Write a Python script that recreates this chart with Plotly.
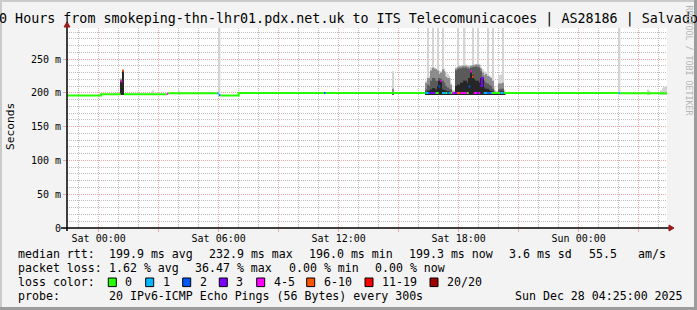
import pandas as pd
import plotly.graph_objects as go

# ---------------- data (hours relative to Sat 2025-12-27 00:00) ----------------
BASE = pd.Timestamp("2025-12-27 00:00")
X_START_H = -(1 + 35 / 60)      # Fri 22:25
X_END_H = 28 + 25 / 60          # Sun 04:25
BIN_H = 5 / 60                  # 300 s step

LOSS_COLORS = ["#26ff00", "#00b8ff", "#0059ff", "#7e00ff", "#ff00ff", "#ff5500", "#ff0000", "#a10000"]
LOSS_LABELS = ["0", "1", "2", "3", "4-5", "6-10", "11-19", "20/20"]

# median rtt runs outside the busy period: start h, end h, value ms, loss class
base_t0 = [-1.5833, 0.1167, 1.1, 1.1833, 1.2667, 3.4, 3.4833, 5.9167, 6.0, 6.0833, 7.0, 11.2667, 11.35, 20.3333, 26.0, 26.0833]
base_t1 = [0.1167, 1.1, 1.1833, 1.2667, 3.4, 3.4833, 5.9167, 6.0, 6.0833, 7.0, 11.2667, 11.35, 16.3333, 26.0, 26.0833, 28.4167]
base_val = [196.0, 198.0, 217.0, 232.9, 198.0, 198.5, 199.5, 199.5, 196.5, 196.0, 199.8, 199.8, 199.8, 199.8, 199.8, 199.3]
base_loss = [0, 0, 4, 5, 0, 4, 0, 1, 2, 0, 0, 2, 0, 0, 1, 0]

# busy period Sat 16:20 - 20:20, one value per 5-minute step
BUSY_START = 16.3333
busy_loss = [1, 1, 2, 3, 3, 3, 0, 0, 2, 4, 1, 1, 0, 2, 1, 0,
             4, 3, 3, 5, 5, 4, 4, 4, 4, 0, 2, 4, 5, 4, 4, 3,
             4, 3, 3, 1, 1, 2, 2, 1, 0, 0, 0, 0, 0, 1, 1, 0]
busy_med = [199.8, 199.8, 199.8, 199.8, 199.8, 199.8, 199.8, 199.8, 209.5, 218.0, 199.8, 199.8, 199.8, 199.8, 199.8, 199.8,
            199.8, 199.8, 199.8, 199.8, 199.8, 199.8, 199.8, 199.8, 199.8, 199.8, 209.5, 231.7, 224.0, 199.8, 199.8, 199.8,
            199.8, 210.0, 222.0, 199.8, 199.8, 199.8, 199.8, 199.8, 199.8, 199.8, 199.8, 199.8, 199.8, 199.8, 199.8, 199.8]
# smoke (ping spread) tops per step, ms: outer / mid / inner / core
busy_light = [218, 320, 225, 238, 320, 238, 236, 320, 233, 232, 320, 236, 230, 228, 225, 214,
              205, 204, 238, 320, 240, 240, 241, 320, 242, 241, 240, 241, 320, 243, 242, 320,
              243, 238, 235, 232, 230, 320, 226, 224, 320, 210, 203, 203, 226, 227, 320, 205]
busy_mid = [215, 222, 222, 233, 237, 236, 235, 233, 228, 230, 235, 232, 224, 222, 222, 212,
            202, 201, 236, 238, 239, 239, 240, 240, 240, 239, 238, 240, 241, 241, 242, 242,
            241, 236, 230, 226, 228, 225, 224, 222, 218, 204, 200, 200, 214, 214, 215, 202]
busy_dark = [205, 212, 210, 218, 222, 222, 218, 218, 222, 221, 218, 215, 210, 208, 206, 205,
             200, 199, 233, 235, 236, 236, 237, 237, 237, 236, 235, 237, 238, 238, 239, 238,
             237, 232, 224, 218, 215, 214, 212, 210, 206, 201, 199, 199, 205, 206, 206, 200]
busy_core = [201, 203, 203, 205, 207, 207, 205, 210, 218, 219, 205, 204, 203, 202, 202, 201,
             199, 199, 210, 212, 212, 215, 215, 218, 218, 215, 222, 232, 226, 220, 218, 218,
             215, 222, 222, 208, 206, 206, 204, 203, 202, 200, 199, 199, 201, 202, 202, 199]

# isolated smoke steps elsewhere
extra_t = [1.1, 1.1833, 2.6667, 4.0, 6.0, 14.6667, 26.0, 27.4167, 27.5, 28.0833, 28.1667, 28.25, 28.3333]
extra_light = [222, 235, 204, 202.5, 320, 232, 320, 205, 203, 204, 207, 209, 210]
extra_mid = [220, 234, 197, 197, 197, 206, 197, 197, 197, 197, 197, 197, 197]
extra_dark = [218, 233, 197, 197, 197, 200, 197, 197, 197, 197, 197, 197, 197]
extra_core = [217, 232, 197, 197, 197, 197, 197, 197, 197, 197, 197, 197, 197]
SMOKE_LOW = 197.0

# y axis ticks
y_ticks = [0, 50, 100, 150, 200, 250]
y_ticktext = ["0", "50 m", "100 m", "150 m", "200 m", "250 m"]
x_major_h = [0, 3, 6, 9, 12, 15, 18, 21, 24, 27]
x_major_text = ["Sat 00:00", "", "Sat 06:00", "", "Sat 12:00", "", "Sat 18:00", "", "Sun 00:00", ""]

# legend statistics
rtt_vals = [199.9, 232.9, 196.0, 199.3]
rtt_names = ["avg", "max", "min", "now"]
rtt_sd = 3.6
rtt_ams = 55.5
loss_vals = [1.62, 36.47, 0.00, 0.00]
probe_text = "20 IPv6-ICMP Echo Pings (56 Bytes) every 300s"
stamp_text = "Sun Dec 28 04:25:00 2025"
title_text = "30 Hours from smokeping-thn-lhr01.pdx.net.uk to ITS Telecomunicacoes | AS28186 | Salvador"

# ---------------- layout geometry ----------------
W, H = 697, 310
PL, PT, PW, PH = 67, 28, 600, 200
FONT = "DejaVu Sans Mono"


def px(x):
    return (x - PL) / PW


def py(y):
    return (PT + PH - y) / PH


def T(h):
    return BASE + pd.to_timedelta(h, unit="h")


fig = go.Figure()

# ---------------- smoke ----------------
busy_t = [BUSY_START + i * BIN_H for i in range(len(busy_light))]
smoke_t = busy_t + extra_t
layers = [
    (busy_light + extra_light, "#d4d4d4"),
    (busy_mid + extra_mid, "#8c8c8c"),
    (busy_dark + extra_dark, "#5a5a5a"),
    (busy_core + extra_core, "#262626"),
]
for tops, col in layers:
    fig.add_trace(go.Bar(
        x=[T(t + BIN_H / 2) for t in smoke_t],
        y=[max(v - SMOKE_LOW, 0) for v in tops],
        base=[SMOKE_LOW] * len(tops),
        width=[BIN_H * 3600 * 1000] * len(tops),
        marker=dict(color=col, line=dict(width=0)),
        showlegend=False, hoverinfo="skip",
    ))

# ---------------- median line coloured by loss ----------------
runs = list(zip(base_t0, base_t1, base_val, base_loss))
for i, (v, l) in enumerate(zip(busy_med, busy_loss)):
    a = BUSY_START + i * BIN_H
    runs.append((a, a + BIN_H, v, l))
runs.sort()
for c in range(len(LOSS_COLORS)):
    xs, ys = [], []
    for k, (a, b, v, l) in enumerate(runs):
        if l != c:
            continue
        contiguous = k > 0 and runs[k - 1][3] == c and abs(runs[k - 1][1] - a) < 1e-3
        if xs and not contiguous:
            xs.append(None)
            ys.append(None)
        xs += [T(a), T(b)]
        ys += [v, v]
    if xs:
        fig.add_trace(go.Scatter(x=xs, y=ys, mode="lines", connectgaps=False,
                                 line=dict(color=LOSS_COLORS[c], width=2),
                                 showlegend=False, hoverinfo="skip"))

# ---------------- axes ----------------
MINOR_GRID = "#bdbdbd"
MAJOR_GRID = "#f0a8a8"
fig.update_xaxes(
    type="date", range=[T(X_START_H), T(X_END_H)],
    tickmode="array", tickvals=[T(h) for h in x_major_h], ticktext=x_major_text,
    showgrid=True, gridcolor=MAJOR_GRID, griddash="1px,1px", gridwidth=1,
    ticks="outside", ticklen=3, tickcolor=MAJOR_GRID, ticklabelstandoff=-2,
    minor=dict(dtick=3600 * 1000, tick0=T(0), showgrid=True, gridcolor=MINOR_GRID,
               griddash="1px,1px", gridwidth=1, ticks=""),
    showline=False, zeroline=False,
    tickfont=dict(family=FONT, size=10, color="#000000"),
    fixedrange=True,
)
fig.update_yaxes(
    range=[0, 296], tickmode="array", tickvals=y_ticks, ticktext=y_ticktext,
    showgrid=True, gridcolor=MAJOR_GRID, griddash="1px,1px", gridwidth=1,
    ticks="outside", ticklen=3, tickcolor=MAJOR_GRID,
    minor=dict(dtick=10, tick0=0, showgrid=True, gridcolor=MINOR_GRID,
               griddash="1px,1px", gridwidth=1, ticks=""),
    showline=False, zeroline=False,
    tickfont=dict(family=FONT, size=10, color="#000000"),
    fixedrange=True,
)

shapes = []
# axis lines
shapes.append(dict(type="line", xref="paper", yref="paper", x0=px(61), x1=px(669), y0=0, y1=0,
                   line=dict(color="#000000", width=1.5), layer="above"))
shapes.append(dict(type="line", xref="paper", yref="paper", x0=0, x1=0, y0=py(231), y1=py(26),
                   line=dict(color="#000000", width=1.5), layer="above"))
# arrows
shapes.append(dict(type="path", xref="paper", yref="paper", xsizemode="pixel", ysizemode="pixel",
                   xanchor=1, yanchor=0, path="M 2,-3 L 2,3 L 7,0 Z",
                   fillcolor="#9c1c1c", line=dict(color="#9c1c1c", width=1), layer="above"))
shapes.append(dict(type="path", xref="paper", yref="paper", xsizemode="pixel", ysizemode="pixel",
                   xanchor=0, yanchor=1, path="M -3,1 L 3,1 L 0,6 Z",
                   fillcolor="#9c1c1c", line=dict(color="#9c1c1c", width=1), layer="above"))
# frame (3D border)
shapes.append(dict(type="rect", xref="paper", yref="paper", x0=px(0), x1=px(697), y0=py(0), y1=py(2),
                   fillcolor="#cbcbcb", line=dict(width=0), layer="below"))
shapes.append(dict(type="rect", xref="paper", yref="paper", x0=px(0), x1=px(2), y0=py(0), y1=py(310),
                   fillcolor="#cbcbcb", line=dict(width=0), layer="below"))
shapes.append(dict(type="rect", xref="paper", yref="paper", x0=px(694), x1=px(697), y0=py(0), y1=py(310),
                   fillcolor="#9c9c9c", line=dict(width=0), layer="below"))
shapes.append(dict(type="rect", xref="paper", yref="paper", x0=px(0), x1=px(697), y0=py(307), y1=py(310),
                   fillcolor="#9c9c9c", line=dict(width=0), layer="below"))

annotations = []


def txt(x, y, s, size=11.6, color="#000000", anchor="left", angle=0):
    annotations.append(dict(xref="paper", yref="paper", x=px(x), y=py(y), text=s, showarrow=False,
                            xanchor=anchor, yanchor="middle", textangle=angle,
                            font=dict(family=FONT, size=size, color=color)))


# title, axis label, watermark
txt(348.5, 19, title_text, size=13.35, anchor="center")
txt(10, 127, "Seconds", size=11.2, anchor="center", angle=-90)
annotations.append(dict(xref="paper", yref="paper", x=px(688.5), y=py(60), text="RRDTOOL / TOBI OETIKER",
                        showarrow=False, xanchor="center", yanchor="middle", textangle=90,
                        font=dict(family=FONT, size=8.3, color="#b4b4b4")))

# legend rows
row_y = [254.3, 268.3, 282.3, 296.0]
txt(16, row_y[0], "median rtt:")
for xpos, v, n in zip([107.3, 207.3, 306.7, 407.3], rtt_vals, rtt_names):
    txt(xpos, row_y[0], f"{v:.1f} ms {n}")
txt(506.7, row_y[0], f"{rtt_sd:.1f} ms sd")
txt(586.7, row_y[0], f"{rtt_ams:.1f}")
txt(636, row_y[0], "am/s")

txt(16, row_y[1], "packet loss:")
for xpos, v, n in zip([107.3, 193.3, 286.7, 372.7], loss_vals, rtt_names):
    txt(xpos, row_y[1], f"{v:.2f} % {n}")

txt(16, row_y[2], "loss color:")
box_x = [108.3, 145.7, 182.7, 219.3, 256.7, 306.7, 365, 430]
for bx, col, lab in zip(box_x, LOSS_COLORS, LOSS_LABELS):
    shapes.append(dict(type="rect", xref="paper", yref="paper", x0=px(bx), x1=px(bx + 8),
                       y0=py(row_y[2] + 4.3), y1=py(row_y[2] - 4.3), fillcolor=col,
                       line=dict(color="#000000", width=1), layer="above"))
    txt(bx + 15, row_y[2], lab)

txt(16, row_y[3], "probe:")
txt(107.3, row_y[3], probe_text)
txt(513.3, row_y[3], stamp_text)

fig.update_layout(
    width=W, height=H, autosize=False,
    margin=dict(l=PL, r=W - PL - PW, t=PT, b=H - PT - PH, pad=0),
    paper_bgcolor="#f3f3f3", plot_bgcolor="#ffffff",
    barmode="overlay", showlegend=False, hovermode=False,
    shapes=shapes, annotations=annotations,
)

fig.write_html("out.html", config={"displayModeBar": False})
